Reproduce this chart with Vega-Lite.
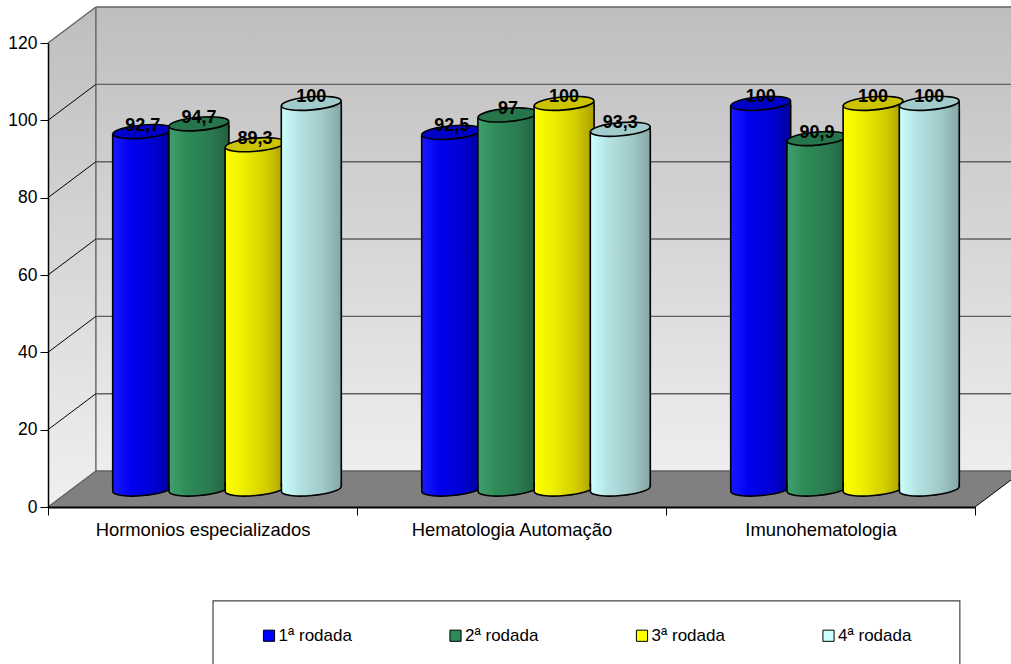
{"$schema":"https://vega.github.io/schema/vega-lite/v6.json","width":927,"height":464,"autosize":"none","padding":{"left":48,"top":43,"right":36,"bottom":157},"background":"white","config":{"font":"Liberation Sans","view":{"stroke":null}},"datasets":{"vals":[{"c":"Hormonios especializados","s":"1ª rodada","v":92.7,"t":"92,7"},{"c":"Hormonios especializados","s":"2ª rodada","v":94.7,"t":"94,7"},{"c":"Hormonios especializados","s":"3ª rodada","v":89.3,"t":"89,3"},{"c":"Hormonios especializados","s":"4ª rodada","v":100,"t":"100"},{"c":"Hematologia Automação","s":"1ª rodada","v":92.5,"t":"92,5"},{"c":"Hematologia Automação","s":"2ª rodada","v":97,"t":"97"},{"c":"Hematologia Automação","s":"3ª rodada","v":100,"t":"100"},{"c":"Hematologia Automação","s":"4ª rodada","v":93.3,"t":"93,3"},{"c":"Imunohematologia","s":"1ª rodada","v":100,"t":"100"},{"c":"Imunohematologia","s":"2ª rodada","v":90.9,"t":"90,9"},{"c":"Imunohematologia","s":"3ª rodada","v":100,"t":"100"},{"c":"Imunohematologia","s":"4ª rodada","v":100,"t":"100"}],"back":[{"x":0.155,"y":9.3,"y2":129.3},{"x":3.155,"y":9.3,"y2":129.3}],"left":[{"x":0,"y":0,"y2":120},{"x":0.155,"y":9.3,"y2":129.3}],"floor":[{"x":0,"y":0,"y2":0},{"x":0.155,"y":0,"y2":9.3},{"x":3,"y":0,"y2":9.3},{"x":3.155,"y":9.3,"y2":9.3}],"box":[{"x":0.534,"x2":2.951,"y":-24.3,"y2":-48}],"gridBack":[{"g":"f","x":0.155,"y":9.3},{"g":"f","x":3.155,"y":9.3},{"g":"20","x":0.155,"y":29.3},{"g":"20","x":3.155,"y":29.3},{"g":"40","x":0.155,"y":49.3},{"g":"40","x":3.155,"y":49.3},{"g":"60","x":0.155,"y":69.3},{"g":"60","x":3.155,"y":69.3},{"g":"80","x":0.155,"y":89.3},{"g":"80","x":3.155,"y":89.3},{"g":"100","x":0.155,"y":109.3},{"g":"100","x":3.155,"y":109.3},{"g":"120","x":0.155,"y":129.3},{"g":"120","x":3.155,"y":129.3},{"g":"v","x":0.155,"y":9.3},{"g":"v","x":0.155,"y":129.3},{"g":"d","x":0,"y":120},{"g":"d","x":0.155,"y":129.3},{"g":"e","x":0,"y":0},{"g":"e","x":0.155,"y":9.3}],"gridDiag":[{"g":"20","x":0,"y":20},{"g":"20","x":0.155,"y":29.3},{"g":"40","x":0,"y":40},{"g":"40","x":0.155,"y":49.3},{"g":"60","x":0,"y":60},{"g":"60","x":0.155,"y":69.3},{"g":"80","x":0,"y":80},{"g":"80","x":0.155,"y":89.3},{"g":"100","x":0,"y":100},{"g":"100","x":0.155,"y":109.3},{"g":"r","x":3,"y":0},{"g":"r","x":3.155,"y":9.3}]},"resolve":{"scale":{"x":"independent"}},"layer":[{"layer":[{"data":{"name":"left"},"mark":{"type":"area","fill":{"gradient":"linear","x1":0,"y1":0,"x2":0,"y2":1,"stops":[{"offset":0,"color":"#BEBEBE"},{"offset":1,"color":"#F0F0F0"}]}},"encoding":{"x":{"field":"x","type":"quantitative","scale":{"domain":[0,3]},"axis":null},"y":{"field":"y","type":"quantitative","stack":null,"scale":{"domain":[0,120],"nice":false},"title":null,"axis":{"values":[0,20,40,60,80,100,120],"domainColor":"black","domainWidth":1.5,"tickColor":"black","tickSize":8,"tickWidth":1,"labelFontSize":17.5,"labelColor":"black","labelPadding":3,"grid":false,"zindex":1}},"y2":{"field":"y2"}}},{"data":{"name":"back"},"mark":{"type":"area","fill":{"gradient":"linear","x1":0,"y1":0,"x2":0,"y2":1,"stops":[{"offset":0,"color":"#BEBEBE"},{"offset":1,"color":"#EEEEEE"}]}},"encoding":{"x":{"field":"x","type":"quantitative"},"y":{"field":"y","type":"quantitative","stack":null},"y2":{"field":"y2"}}},{"data":{"name":"floor"},"mark":{"type":"area","fill":"#808080"},"encoding":{"x":{"field":"x","type":"quantitative"},"y":{"field":"y","type":"quantitative","stack":null},"y2":{"field":"y2"}}},{"data":{"name":"box"},"mark":{"type":"rect","fill":"white","stroke":"#444444","strokeWidth":1.2},"encoding":{"x":{"field":"x","type":"quantitative"},"x2":{"field":"x2"},"y":{"field":"y","type":"quantitative","stack":null},"y2":{"field":"y2"}}},{"data":{"name":"gridBack"},"mark":{"type":"line","stroke":"#606060","strokeWidth":1.4},"encoding":{"x":{"field":"x","type":"quantitative"},"y":{"field":"y","type":"quantitative"},"detail":{"field":"g"}}},{"data":{"name":"gridDiag"},"mark":{"type":"line","stroke":"black","strokeWidth":1},"encoding":{"x":{"field":"x","type":"quantitative"},"y":{"field":"y","type":"quantitative"},"detail":{"field":"g"}}}]},{"data":{"name":"vals"},"encoding":{"x":{"field":"c","type":"nominal","sort":null,"title":null,"scale":{"domain":["Hormonios especializados","Hematologia Automação","Imunohematologia"],"paddingInner":0,"paddingOuter":0},"axis":{"orient":"bottom","labelAngle":0,"domainColor":"black","domainWidth":2,"tickColor":"black","tickSize":8,"tickWidth":1,"tickBand":"extent","labelFontSize":18.4,"labelColor":"black","labelPadding":5,"labelLimit":400,"zindex":1}},"xOffset":{"field":"s","type":"nominal","sort":null,"scale":{"domain":["1ª rodada","2ª rodada","3ª rodada","4ª rodada"],"range":[24.5,333.5],"paddingInner":0,"paddingOuter":0.749}}},"layer":[{"mark":{"type":"point","filled":true,"shape":"square","size":100,"opacity":1},"encoding":{"y":{"datum":50,"type":"quantitative"},"fill":{"field":"s","type":"nominal","title":null,"scale":{"domain":["1ª rodada","2ª rodada","3ª rodada","4ª rodada"],"range":["#0000FF","#2E8B57","#FFFF00","#CCFFFF"]},"legend":{"orient":"none","legendX":212.5,"legendY":584,"columns":4,"direction":"horizontal","symbolType":"square","symbolSize":125,"symbolStrokeColor":"black","symbolStrokeWidth":1,"symbolOpacity":1,"labelFontSize":17,"labelColor":"black","labelOffset":1,"columnPadding":94.5,"padding":0,"title":null}}}},{"transform":[{"filter":"datum.s==='1ª rodada'"}],"layer":[{"mark":{"type":"bar","width":60,"yOffset":-14,"y2Offset":-21,"stroke":"black","strokeWidth":1.6,"fill":{"gradient":"linear","x1":0,"y1":0,"x2":1,"y2":0,"stops":[{"offset":0,"color":"#1A1AFF"},{"offset":0.3,"color":"#0000F0"},{"offset":0.7,"color":"#0000D0"},{"offset":1,"color":"#00009A"}]}},"encoding":{"y":{"field":"v","type":"quantitative","stack":null},"y2":{"datum":0}}},{"mark":{"type":"point","shape":"M-.99,.087L-.99,-.2L.99,-.2L.99,-.087C1.007,.034,.569,.171,.019,.219C-.531,.267,-.986,.208,-.99,.087Z","size":3600,"filled":true,"opacity":1,"yOffset":-18,"strokeWidth":0,"fill":{"gradient":"linear","x1":0,"y1":0,"x2":1,"y2":0,"stops":[{"offset":0,"color":"#1A1AFF"},{"offset":0.3,"color":"#0000F0"},{"offset":0.7,"color":"#0000D0"},{"offset":1,"color":"#00009A"}]}},"encoding":{"y":{"datum":0,"type":"quantitative"}}},{"mark":{"type":"point","shape":"M-.996,-.2L-.996,.087C-.986,.208,-.531,.267,.019,.219C.569,.171,1.007,.034,.996,-.087L.996,-.2","size":3600,"filled":false,"opacity":1,"yOffset":-18,"stroke":"black","strokeWidth":1.6},"encoding":{"y":{"datum":0,"type":"quantitative"}}},{"mark":{"type":"point","shape":"M-.8,.13L.98,-.08L.98,.15L-.8,.15Z","size":3600,"filled":true,"opacity":1,"yOffset":-17,"strokeWidth":0,"fill":"#00009E"},"encoding":{"y":{"field":"v","type":"quantitative","stack":null}}},{"mark":{"type":"point","shape":"M.996,.12L.996,-.087C1.007,.034,.569,.171,.019,.219C-.531,.267,-.986,.208,-.996,.087C-1.007,-.034,-.569,-.171,-.019,-.219C.531,-.267,.986,-.208,.996,-.087Z","size":3600,"filled":true,"opacity":1,"yOffset":-17,"stroke":"black","strokeWidth":1.6,"fill":"#0000C8"},"encoding":{"y":{"field":"v","type":"quantitative","stack":null}}}]},{"transform":[{"filter":"datum.s==='2ª rodada'"}],"layer":[{"mark":{"type":"bar","width":60,"yOffset":-14,"y2Offset":-21,"stroke":"black","strokeWidth":1.6,"fill":{"gradient":"linear","x1":0,"y1":0,"x2":1,"y2":0,"stops":[{"offset":0,"color":"#3FA06E"},{"offset":0.3,"color":"#2E8B57"},{"offset":0.7,"color":"#2A7A50"},{"offset":1,"color":"#20603F"}]}},"encoding":{"y":{"field":"v","type":"quantitative","stack":null},"y2":{"datum":0}}},{"mark":{"type":"point","shape":"M-.99,.087L-.99,-.2L.99,-.2L.99,-.087C1.007,.034,.569,.171,.019,.219C-.531,.267,-.986,.208,-.99,.087Z","size":3600,"filled":true,"opacity":1,"yOffset":-18,"strokeWidth":0,"fill":{"gradient":"linear","x1":0,"y1":0,"x2":1,"y2":0,"stops":[{"offset":0,"color":"#3FA06E"},{"offset":0.3,"color":"#2E8B57"},{"offset":0.7,"color":"#2A7A50"},{"offset":1,"color":"#20603F"}]}},"encoding":{"y":{"datum":0,"type":"quantitative"}}},{"mark":{"type":"point","shape":"M-.996,-.2L-.996,.087C-.986,.208,-.531,.267,.019,.219C.569,.171,1.007,.034,.996,-.087L.996,-.2","size":3600,"filled":false,"opacity":1,"yOffset":-18,"stroke":"black","strokeWidth":1.6},"encoding":{"y":{"datum":0,"type":"quantitative"}}},{"mark":{"type":"point","shape":"M-.8,.13L.98,-.08L.98,.15L-.8,.15Z","size":3600,"filled":true,"opacity":1,"yOffset":-17,"strokeWidth":0,"fill":"#226242"},"encoding":{"y":{"field":"v","type":"quantitative","stack":null}}},{"mark":{"type":"point","shape":"M.996,.12L.996,-.087C1.007,.034,.569,.171,.019,.219C-.531,.267,-.986,.208,-.996,.087C-1.007,-.034,-.569,-.171,-.019,-.219C.531,-.267,.986,-.208,.996,-.087Z","size":3600,"filled":true,"opacity":1,"yOffset":-17,"stroke":"black","strokeWidth":1.6,"fill":"#26754B"},"encoding":{"y":{"field":"v","type":"quantitative","stack":null}}}]},{"transform":[{"filter":"datum.s==='3ª rodada'"}],"layer":[{"mark":{"type":"bar","width":60,"yOffset":-14,"y2Offset":-21,"stroke":"black","strokeWidth":1.6,"fill":{"gradient":"linear","x1":0,"y1":0,"x2":1,"y2":0,"stops":[{"offset":0,"color":"#FFFF00"},{"offset":0.3,"color":"#EFEF00"},{"offset":0.7,"color":"#D2CC00"},{"offset":1,"color":"#A8A000"}]}},"encoding":{"y":{"field":"v","type":"quantitative","stack":null},"y2":{"datum":0}}},{"mark":{"type":"point","shape":"M-.99,.087L-.99,-.2L.99,-.2L.99,-.087C1.007,.034,.569,.171,.019,.219C-.531,.267,-.986,.208,-.99,.087Z","size":3600,"filled":true,"opacity":1,"yOffset":-18,"strokeWidth":0,"fill":{"gradient":"linear","x1":0,"y1":0,"x2":1,"y2":0,"stops":[{"offset":0,"color":"#FFFF00"},{"offset":0.3,"color":"#EFEF00"},{"offset":0.7,"color":"#D2CC00"},{"offset":1,"color":"#A8A000"}]}},"encoding":{"y":{"datum":0,"type":"quantitative"}}},{"mark":{"type":"point","shape":"M-.996,-.2L-.996,.087C-.986,.208,-.531,.267,.019,.219C.569,.171,1.007,.034,.996,-.087L.996,-.2","size":3600,"filled":false,"opacity":1,"yOffset":-18,"stroke":"black","strokeWidth":1.6},"encoding":{"y":{"datum":0,"type":"quantitative"}}},{"mark":{"type":"point","shape":"M-.8,.13L.98,-.08L.98,.15L-.8,.15Z","size":3600,"filled":true,"opacity":1,"yOffset":-17,"strokeWidth":0,"fill":"#ACA400"},"encoding":{"y":{"field":"v","type":"quantitative","stack":null}}},{"mark":{"type":"point","shape":"M.996,.12L.996,-.087C1.007,.034,.569,.171,.019,.219C-.531,.267,-.986,.208,-.996,.087C-1.007,-.034,-.569,-.171,-.019,-.219C.531,-.267,.986,-.208,.996,-.087Z","size":3600,"filled":true,"opacity":1,"yOffset":-17,"stroke":"black","strokeWidth":1.6,"fill":"#CCC400"},"encoding":{"y":{"field":"v","type":"quantitative","stack":null}}}]},{"transform":[{"filter":"datum.s==='4ª rodada'"}],"layer":[{"mark":{"type":"bar","width":60,"yOffset":-14,"y2Offset":-21,"stroke":"black","strokeWidth":1.6,"fill":{"gradient":"linear","x1":0,"y1":0,"x2":1,"y2":0,"stops":[{"offset":0,"color":"#CCFFFF"},{"offset":0.3,"color":"#B4E2E2"},{"offset":0.7,"color":"#A0C8C8"},{"offset":1,"color":"#84A6A6"}]}},"encoding":{"y":{"field":"v","type":"quantitative","stack":null},"y2":{"datum":0}}},{"mark":{"type":"point","shape":"M-.99,.087L-.99,-.2L.99,-.2L.99,-.087C1.007,.034,.569,.171,.019,.219C-.531,.267,-.986,.208,-.99,.087Z","size":3600,"filled":true,"opacity":1,"yOffset":-18,"strokeWidth":0,"fill":{"gradient":"linear","x1":0,"y1":0,"x2":1,"y2":0,"stops":[{"offset":0,"color":"#CCFFFF"},{"offset":0.3,"color":"#B4E2E2"},{"offset":0.7,"color":"#A0C8C8"},{"offset":1,"color":"#84A6A6"}]}},"encoding":{"y":{"datum":0,"type":"quantitative"}}},{"mark":{"type":"point","shape":"M-.996,-.2L-.996,.087C-.986,.208,-.531,.267,.019,.219C.569,.171,1.007,.034,.996,-.087L.996,-.2","size":3600,"filled":false,"opacity":1,"yOffset":-18,"stroke":"black","strokeWidth":1.6},"encoding":{"y":{"datum":0,"type":"quantitative"}}},{"mark":{"type":"point","shape":"M-.8,.13L.98,-.08L.98,.15L-.8,.15Z","size":3600,"filled":true,"opacity":1,"yOffset":-17,"strokeWidth":0,"fill":"#8CAEAE"},"encoding":{"y":{"field":"v","type":"quantitative","stack":null}}},{"mark":{"type":"point","shape":"M.996,.12L.996,-.087C1.007,.034,.569,.171,.019,.219C-.531,.267,-.986,.208,-.996,.087C-1.007,-.034,-.569,-.171,-.019,-.219C.531,-.267,.986,-.208,.996,-.087Z","size":3600,"filled":true,"opacity":1,"yOffset":-17,"stroke":"black","strokeWidth":1.6,"fill":"#A2CCCC"},"encoding":{"y":{"field":"v","type":"quantitative","stack":null}}}]},{"mark":{"type":"text","fontSize":18,"fontWeight":"bold","color":"black","baseline":"middle","yOffset":-23},"encoding":{"y":{"field":"v","type":"quantitative","stack":null},"text":{"field":"t"}}}]}]}
